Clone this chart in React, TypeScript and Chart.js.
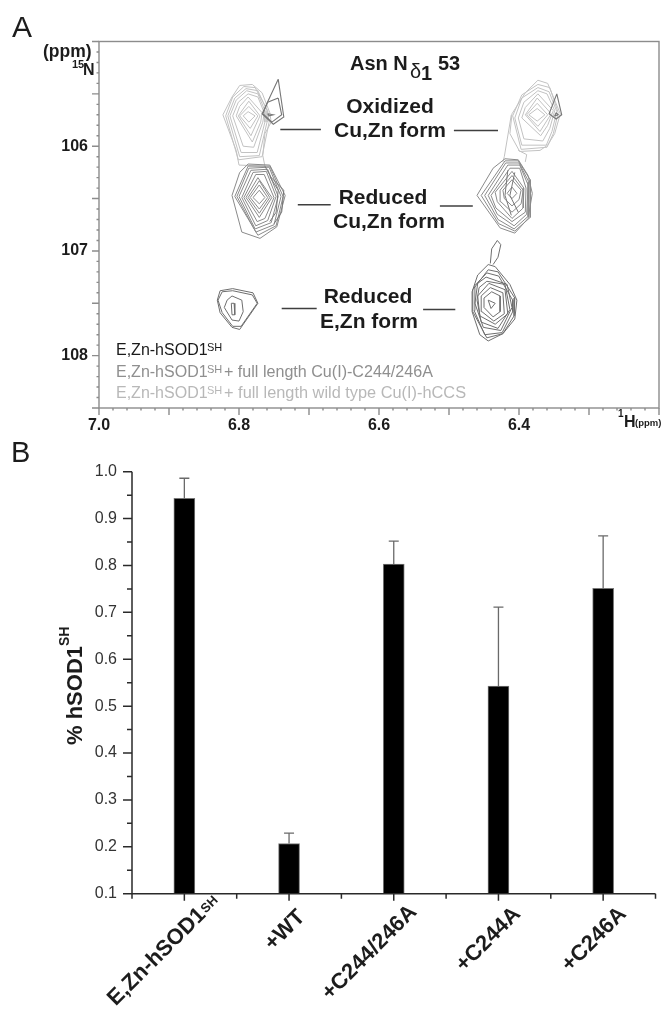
import React, { useEffect, useRef } from "react";
import { Chart, registerables } from "chart.js";

Chart.register(...registerables);

type Pt = [number, number];
type Ring = Pt[];

const FONT = '"Liberation Sans", Arial, sans-serif';

// ---------- Panel B data ----------
const categories = ["E,Zn-hSOD1", "+WT", "+C244/246A", "+C244A", "+C246A"];
const barValues = [0.943, 0.207, 0.803, 0.543, 0.751];
const errorTops = [0.986, 0.229, 0.852, 0.711, 0.863];

// ---------- Panel A data (1H ppm, 15N ppm) ----------
const smallPeakLeft: Ring[] = [
  [[6.744, 105.36], [6.736, 105.72], [6.751, 105.79], [6.767, 105.69], [6.76, 105.59]],
  [[6.744, 105.54], [6.739, 105.7], [6.753, 105.77], [6.766, 105.69], [6.759, 105.58]],
  [[6.759, 105.69], [6.751, 105.7], [6.757, 105.71]],
];
const smallPeakRight: Ring[] = [
  [[6.346, 105.5], [6.339, 105.7], [6.347, 105.74], [6.357, 105.69]],
  [[6.347, 105.68], [6.344, 105.7], [6.349, 105.71]],
];
const oxidizedLeft: Ring[] = [
  [[6.787, 105.67], [6.777, 105.71], [6.786, 105.77], [6.794, 105.71]],
  [[6.786, 105.62], [6.773, 105.71], [6.784, 105.83], [6.799, 105.71]],
  [[6.786, 105.57], [6.77, 105.71], [6.783, 105.9], [6.801, 105.71]],
  [[6.787, 105.53], [6.767, 105.68], [6.769, 105.77], [6.781, 105.96], [6.804, 105.71], [6.799, 105.62]],
  [[6.787, 105.5], [6.773, 105.53], [6.764, 105.68], [6.766, 105.77], [6.779, 106.01], [6.794, 106.0], [6.809, 105.71], [6.801, 105.58]],
  [[6.789, 105.47], [6.773, 105.5], [6.763, 105.66], [6.763, 105.77], [6.774, 106.06], [6.797, 106.06], [6.813, 105.71], [6.804, 105.56]],
  [[6.79, 105.45], [6.773, 105.47], [6.76, 105.66], [6.76, 105.77], [6.771, 106.09], [6.799, 106.1], [6.816, 105.71], [6.806, 105.54]],
  [[6.793, 105.43], [6.777, 105.44], [6.759, 105.66], [6.757, 105.77], [6.767, 106.1], [6.801, 106.13], [6.819, 105.71], [6.809, 105.53]],
  [[6.799, 105.42], [6.781, 105.41], [6.767, 105.49], [6.756, 105.68], [6.754, 105.77], [6.763, 105.88], [6.766, 106.09], [6.763, 106.19], [6.8, 106.18], [6.804, 106.04], [6.823, 105.7], [6.81, 105.53]],
];
const oxidizedRight: Ring[] = [
  [[6.374, 105.64], [6.363, 105.7], [6.374, 105.76], [6.386, 105.7]],
  [[6.374, 105.59], [6.359, 105.7], [6.373, 105.81], [6.389, 105.7]],
  [[6.374, 105.54], [6.354, 105.69], [6.37, 105.86], [6.391, 105.7]],
  [[6.373, 105.5], [6.351, 105.66], [6.359, 105.8], [6.369, 105.9], [6.396, 105.73], [6.391, 105.63]],
  [[6.373, 105.47], [6.36, 105.5], [6.349, 105.66], [6.356, 105.83], [6.366, 105.95], [6.393, 105.93], [6.401, 105.73], [6.393, 105.58]],
  [[6.373, 105.44], [6.357, 105.48], [6.346, 105.67], [6.353, 105.86], [6.361, 105.99], [6.396, 105.99], [6.406, 105.73], [6.396, 105.54]],
  [[6.373, 105.41], [6.356, 105.44], [6.344, 105.68], [6.351, 105.88], [6.36, 106.01], [6.397, 106.03], [6.409, 105.71], [6.396, 105.51]],
  [[6.373, 105.37], [6.359, 105.4], [6.349, 105.56], [6.341, 105.69], [6.349, 105.88], [6.359, 105.99], [6.37, 106.04], [6.399, 106.05], [6.413, 105.88], [6.41, 105.69], [6.391, 105.49]],
];
const oxidizedRightTails: Ring[] = [
  [[6.411, 105.7], [6.421, 106.1], [6.423, 106.15]],
  [[6.401, 106.04], [6.389, 106.08], [6.391, 106.15]],
];
const reducedLeft: Ring[] = [
  [[6.771, 106.42], [6.763, 106.49], [6.771, 106.55], [6.78, 106.49]],
  [[6.771, 106.37], [6.759, 106.49], [6.771, 106.6], [6.784, 106.49]],
  [[6.771, 106.33], [6.756, 106.49], [6.771, 106.64], [6.787, 106.49]],
  [[6.773, 106.3], [6.753, 106.49], [6.771, 106.68], [6.79, 106.49]],
  [[6.776, 106.27], [6.764, 106.27], [6.75, 106.49], [6.763, 106.69], [6.774, 106.72], [6.793, 106.49]],
  [[6.78, 106.25], [6.761, 106.24], [6.747, 106.48], [6.759, 106.71], [6.776, 106.76], [6.796, 106.49]],
  [[6.783, 106.23], [6.759, 106.22], [6.744, 106.48], [6.754, 106.73], [6.777, 106.79], [6.8, 106.48]],
  [[6.786, 106.21], [6.757, 106.2], [6.74, 106.48], [6.75, 106.75], [6.776, 106.82], [6.803, 106.48]],
  [[6.787, 106.19], [6.756, 106.19], [6.737, 106.48], [6.747, 106.76], [6.773, 106.85], [6.806, 106.48]],
  [[6.787, 106.17], [6.756, 106.18], [6.734, 106.47], [6.746, 106.77], [6.77, 106.88], [6.796, 106.82], [6.81, 106.47], [6.799, 106.25]],
];
const reducedLeftShoulder: Ring[] = [
  [[6.763, 106.19], [6.754, 106.3], [6.736, 106.42], [6.739, 106.63], [6.75, 106.74]],
  [[6.756, 106.29], [6.744, 106.42], [6.747, 106.63], [6.756, 106.72]],
];
const reducedRight: Ring[] = [
  [[6.41, 106.39], [6.403, 106.45], [6.41, 106.5], [6.417, 106.45]],
  [[6.41, 106.32], [6.397, 106.42], [6.4, 106.51], [6.41, 106.57], [6.421, 106.5], [6.423, 106.42]],
  [[6.41, 106.28], [6.394, 106.42], [6.397, 106.55], [6.41, 106.63], [6.426, 106.53], [6.427, 106.42]],
  [[6.41, 106.24], [6.393, 106.4], [6.394, 106.59], [6.41, 106.69], [6.431, 106.53], [6.434, 106.44]],
  [[6.413, 106.21], [6.399, 106.21], [6.39, 106.4], [6.391, 106.63], [6.41, 106.72], [6.433, 106.59], [6.44, 106.47]],
  [[6.416, 106.18], [6.399, 106.18], [6.387, 106.37], [6.389, 106.65], [6.407, 106.76], [6.431, 106.65], [6.444, 106.47]],
  [[6.419, 106.16], [6.4, 106.16], [6.386, 106.34], [6.387, 106.67], [6.407, 106.79], [6.43, 106.7], [6.449, 106.47]],
  [[6.42, 106.14], [6.401, 106.14], [6.384, 106.32], [6.384, 106.68], [6.406, 106.81], [6.429, 106.74], [6.454, 106.47]],
  [[6.42, 106.12], [6.401, 106.13], [6.387, 106.28], [6.381, 106.45], [6.387, 106.69], [6.406, 106.83], [6.427, 106.78], [6.46, 106.47], [6.437, 106.21]],
];
const reducedRightCore: Ring[] = [
  [[6.416, 106.23], [6.42, 106.47], [6.411, 106.66]],
  [[6.406, 106.25], [6.413, 106.47], [6.401, 106.63]],
];
const apoLeft: Ring[] = [
  [[6.831, 107.47], [6.827, 107.38], [6.809, 107.36], [6.78, 107.4], [6.773, 107.5], [6.799, 107.75], [6.81, 107.73], [6.827, 107.59]],
  [[6.83, 107.47], [6.824, 107.39], [6.809, 107.38], [6.781, 107.42], [6.774, 107.5], [6.797, 107.72], [6.809, 107.72], [6.824, 107.59]],
  [[6.817, 107.47], [6.81, 107.43], [6.796, 107.47], [6.794, 107.58], [6.8, 107.67], [6.81, 107.66], [6.821, 107.54]],
  [[6.811, 107.5], [6.807, 107.5], [6.806, 107.61], [6.81, 107.61]],
];
const apoRight: Ring[] = [
  [[6.444, 107.47], [6.434, 107.5], [6.44, 107.55]],
  [[6.439, 107.39], [6.427, 107.43], [6.427, 107.58], [6.437, 107.63], [6.45, 107.54], [6.45, 107.45]],
  [[6.441, 107.35], [6.423, 107.4], [6.421, 107.6], [6.436, 107.67], [6.453, 107.58], [6.454, 107.43]],
  [[6.443, 107.31], [6.42, 107.37], [6.416, 107.6], [6.434, 107.7], [6.456, 107.62], [6.459, 107.43]],
  [[6.446, 107.29], [6.42, 107.32], [6.413, 107.56], [6.43, 107.74], [6.454, 107.68], [6.46, 107.47], [6.457, 107.35]],
  [[6.447, 107.25], [6.417, 107.32], [6.41, 107.54], [6.426, 107.76], [6.451, 107.73], [6.463, 107.5], [6.459, 107.31]],
  [[6.446, 107.21], [6.429, 107.24], [6.409, 107.47], [6.409, 107.58], [6.424, 107.78], [6.449, 107.8], [6.464, 107.57], [6.463, 107.33]],
  [[6.444, 107.18], [6.43, 107.2], [6.406, 107.45], [6.407, 107.62], [6.423, 107.79], [6.446, 107.83], [6.466, 107.58], [6.466, 107.37]],
  [[6.444, 107.13], [6.434, 107.15], [6.413, 107.32], [6.403, 107.47], [6.406, 107.65], [6.423, 107.79], [6.444, 107.86], [6.456, 107.8], [6.467, 107.58], [6.467, 107.39], [6.459, 107.23]],
];
const apoRightTail: Ring[] = [
  [[6.441, 107.12], [6.439, 106.98], [6.431, 106.9], [6.426, 106.94], [6.43, 107.06], [6.437, 107.13]],
];
const leaderLines: Ring[] = [
  [[6.741, 105.84], [6.683, 105.84]],
  [[6.493, 105.85], [6.43, 105.85]],
  [[6.716, 106.56], [6.669, 106.56]],
  [[6.513, 106.57], [6.466, 106.57]],
  [[6.739, 107.55], [6.689, 107.55]],
  [[6.537, 107.56], [6.491, 107.56]],
];

const LIGHT = "#c2c2c2";
const MID = "#8a8a8a";
const DARK = "#6e6e6e";

function ringSets(rings: Ring[], color: string, closed: boolean, width = 1) {
  return rings.map((ring) => ({
    data: (closed ? [...ring, ring[0]] : ring).map(([x, y]) => ({ x, y })),
    borderColor: color,
    borderWidth: width,
    showLine: true,
    pointRadius: 0,
    fill: false,
    tension: 0,
  }));
}

function txt(
  ctx: CanvasRenderingContext2D,
  s: string,
  x: number,
  y: number,
  font: string,
  color = "#1c1c1c",
  align: CanvasTextAlign = "left"
) {
  ctx.font = font + " " + FONT;
  ctx.fillStyle = color;
  ctx.textAlign = align;
  ctx.textBaseline = "alphabetic";
  ctx.fillText(s, x, y);
}

const panelAPlugin = {
  id: "panelA",
  afterDraw(chart: any) {
    const { ctx, chartArea: a, scales } = chart;
    const xs = scales.x;
    const ys = scales.y;
    ctx.save();
    ctx.strokeStyle = "#8c8c8c";
    ctx.lineWidth = 1.4;
    ctx.strokeRect(a.left, a.top, a.right - a.left, a.bottom - a.top);
    ctx.beginPath();
    xs.ticks.forEach((t: any) => {
      const k = Math.round(t.value * 100);
      const len = k % 10 === 0 ? 7 : 2.5;
      const p = xs.getPixelForValue(t.value);
      ctx.moveTo(p, a.bottom);
      ctx.lineTo(p, a.bottom + len);
    });
    ys.ticks.forEach((t: any) => {
      const k = Math.round(t.value * 10);
      const len = k % 5 === 0 ? 7 : 2.5;
      const p = ys.getPixelForValue(t.value);
      ctx.moveTo(a.left, p);
      ctx.lineTo(a.left - len, p);
    });
    ctx.stroke();

    txt(ctx, "A", 12, 37, "30px");
    txt(ctx, "(ppm)", 43, 57, "bold 17.5px");
    txt(ctx, "15", 72, 68, "bold 11px");
    txt(ctx, "N", 83, 75, "bold 16px");
    txt(ctx, "1", 618, 417, "bold 10px");
    txt(ctx, "H", 624, 427, "bold 16px");
    txt(ctx, "(ppm)", 635, 426, "bold 9.5px");

    txt(ctx, "Asn N", 350, 70, "bold 20px");
    txt(ctx, "δ", 410, 78, "20px");
    txt(ctx, "1", 421, 80, "bold 20px");
    txt(ctx, "53", 438, 70, "bold 20px");
    txt(ctx, "Oxidized", 390, 113, "bold 21px", "#1c1c1c", "center");
    txt(ctx, "Cu,Zn form", 390, 137, "bold 21px", "#1c1c1c", "center");
    txt(ctx, "Reduced", 383, 204, "bold 21px", "#1c1c1c", "center");
    txt(ctx, "Cu,Zn form", 389, 228, "bold 21px", "#1c1c1c", "center");
    txt(ctx, "Reduced", 368, 303, "bold 21px", "#1c1c1c", "center");
    txt(ctx, "E,Zn form", 369, 328, "bold 21px", "#1c1c1c", "center");

    const c1 = "#1a1a1a";
    const c2 = "#8f8f8f";
    const c3 = "#b8b8b8";
    txt(ctx, "E,Zn-hSOD1", 116, 355, "16px", c1);
    txt(ctx, "SH", 207, 351, "11px", c1);
    txt(ctx, "E,Zn-hSOD1", 116, 377, "16px", c2);
    txt(ctx, "SH", 207, 373, "11px", c2);
    txt(ctx, "+ full length Cu(I)-C244/246A", 224, 377, "16.1px", c2);
    txt(ctx, "E,Zn-hSOD1", 116, 398, "16px", c3);
    txt(ctx, "SH", 207, 394, "11px", c3);
    txt(ctx, "+ full length wild type Cu(I)-hCCS", 224, 398, "16.35px", c3);
    ctx.restore();
  },
};

const panelBPlugin = {
  id: "panelB",
  afterDraw(chart: any) {
    const { ctx, chartArea: a, scales } = chart;
    const xs = scales.x;
    const ys = scales.y;
    ctx.save();
    ctx.strokeStyle = "#2a2a2a";
    ctx.lineWidth = 1.5;
    ctx.beginPath();
    ctx.moveTo(a.left, a.top);
    ctx.lineTo(a.left, a.bottom);
    ctx.lineTo(a.right, a.bottom);
    ys.ticks.forEach((t: any) => {
      const k = Math.round(t.value * 100);
      const len = k % 10 === 0 ? 9 : 5;
      const p = ys.getPixelForValue(t.value);
      ctx.moveTo(a.left, p);
      ctx.lineTo(a.left - len, p);
    });
    const step = (a.right - a.left) / categories.length;
    categories.forEach((_, i) => {
      const p = xs.getPixelForValue(i);
      ctx.moveTo(p, a.bottom);
      ctx.lineTo(p, a.bottom + 7);
      ctx.moveTo(p - step / 2, a.bottom);
      ctx.lineTo(p - step / 2, a.bottom + 5);
      if (i === categories.length - 1) {
        ctx.moveTo(p + step / 2, a.bottom);
        ctx.lineTo(p + step / 2, a.bottom + 5);
      }
    });
    ctx.stroke();

    // error bars
    ctx.strokeStyle = "#6a6a6a";
    ctx.lineWidth = 1.3;
    ctx.beginPath();
    errorTops.forEach((v, i) => {
      const p = xs.getPixelForValue(i);
      const t = ys.getPixelForValue(v);
      ctx.moveTo(p, ys.getPixelForValue(barValues[i]));
      ctx.lineTo(p, t);
      ctx.moveTo(p - 5, t);
      ctx.lineTo(p + 5, t);
    });
    ctx.stroke();

    txt(ctx, "B", 11, 28, "29px");

    // y title
    ctx.save();
    ctx.translate(82, 745 - 434);
    ctx.rotate(-Math.PI / 2);
    txt(ctx, "% hSOD1", 0, 0, "bold 22px");
    txt(ctx, "SH", 99, -13, "bold 14px");
    ctx.restore();

    // category labels
    const dx = [13, 17, 24, 23, 24];
    const yBase = [491, 484, 479, 481, 481];
    categories.forEach((label, i) => {
      ctx.save();
      ctx.translate(xs.getPixelForValue(i) + dx[i], yBase[i]);
      ctx.rotate(-Math.PI / 4);
      if (i === 0) {
        ctx.translate(13, 0);
        txt(ctx, label, 0, 0, "bold 22px", "#1c1c1c", "right");
        txt(ctx, "SH", 1, -2, "bold 13px");
      } else {
        txt(ctx, label, 0, 0, "bold 22px", "#1c1c1c", "right");
      }
      ctx.restore();
    });
    ctx.restore();
  },
};

export default function App() {
  const aRef = useRef<HTMLCanvasElement>(null);
  const bRef = useRef<HTMLCanvasElement>(null);

  useEffect(() => {
    const a = new Chart(aRef.current as HTMLCanvasElement, {
      type: "scatter",
      data: {
        datasets: [
          ...ringSets(leaderLines, "#3f3f3f", false, 1.5),
          ...ringSets(smallPeakLeft, "#777777", true, 1.1),
          ...ringSets(smallPeakRight, "#777777", true, 1.1),
          ...ringSets(apoLeft, DARK, true),
          ...ringSets(apoRight, DARK, true),
          ...ringSets(apoRightTail, DARK, false),
          ...ringSets(reducedLeftShoulder, "#777777", false),
          ...ringSets(reducedLeft, MID, true),
          ...ringSets(reducedRightCore, "#777777", false),
          ...ringSets(reducedRight, MID, true),
          ...ringSets(oxidizedLeft, LIGHT, true),
          ...ringSets(oxidizedRight, LIGHT, true),
          ...ringSets(oxidizedRightTails, LIGHT, false),
        ] as any,
      },
      options: {
        animation: false,
        responsive: false,
        layout: { padding: { top: 41.5, right: 3, left: 0, bottom: 0 } },
        plugins: { legend: { display: false }, tooltip: { enabled: false } },
        scales: {
          x: {
            type: "linear",
            min: 6.2,
            max: 7.0,
            reverse: true,
            grid: { display: false, drawTicks: false },
            border: { display: false },
            afterFit: (s: any) => {
              s.height = 28;
              s.paddingLeft = 0;
              s.paddingRight = 0;
            },
            ticks: {
              stepSize: 0.02,
              autoSkip: false,
              maxRotation: 0,
              minRotation: 0,
              padding: 8,
              color: "#1c1c1c",
              font: { family: FONT, size: 16, weight: "bold" },
              callback: (v: any) => {
                const k = Math.round(Number(v) * 100);
                return k % 20 === 0 && k !== 620 ? (k / 100).toFixed(1) : "";
              },
            },
          },
          y: {
            type: "linear",
            min: 105,
            max: 108.5,
            reverse: true,
            grid: { display: false, drawTicks: false },
            border: { display: false },
            afterFit: (s: any) => {
              s.width = 99;
            },
            ticks: {
              stepSize: 0.1,
              autoSkip: false,
              padding: 11,
              color: "#1c1c1c",
              font: { family: FONT, size: 16, weight: "bold" },
              callback: (v: any) => {
                const k = Math.round(Number(v) * 10);
                return k % 10 === 0 && k !== 1050 ? String(k / 10) : "";
              },
            },
          },
        },
      } as any,
      plugins: [panelAPlugin],
    });

    const b = new Chart(bRef.current as HTMLCanvasElement, {
      type: "bar",
      data: {
        labels: categories,
        datasets: [
          {
            data: barValues,
            backgroundColor: "#000000",
            borderColor: "#777777",
            borderWidth: 1,
            barThickness: 21,
          },
        ],
      },
      options: {
        animation: false,
        responsive: false,
        layout: { padding: { top: 37.7, right: 6.5, left: 0, bottom: 0 } },
        plugins: { legend: { display: false }, tooltip: { enabled: false } },
        scales: {
          x: {
            grid: { display: false, drawTicks: false },
            border: { display: false },
            ticks: { display: false },
            afterFit: (s: any) => {
              s.height = 120.3;
            },
          },
          y: {
            min: 0.1,
            max: 1.0,
            grid: { display: false, drawTicks: false },
            border: { display: false },
            afterFit: (s: any) => {
              s.width = 132;
            },
            ticks: {
              stepSize: 0.05,
              autoSkip: false,
              padding: 15,
              color: "#333333",
              font: { family: FONT, size: 16 },
              callback: (v: any) => {
                const k = Math.round(Number(v) * 100);
                return k % 10 === 0 ? (k / 100).toFixed(1) : "";
              },
            },
          },
        },
      } as any,
      plugins: [panelBPlugin],
    });

    return () => {
      a.destroy();
      b.destroy();
    };
  }, []);

  const soft: React.CSSProperties = { position: "absolute", left: 0, display: "block", filter: "blur(0.35px)" };
  return (
    <div style={{ position: "absolute", left: 0, top: 0, width: 662, height: 1014, overflow: "hidden", background: "#fff" }}>
      <canvas ref={aRef} width={662} height={436} style={{ ...soft, top: 0 }} />
      <canvas ref={bRef} width={662} height={580} style={{ ...soft, top: 434 }} />
    </div>
  );
}
